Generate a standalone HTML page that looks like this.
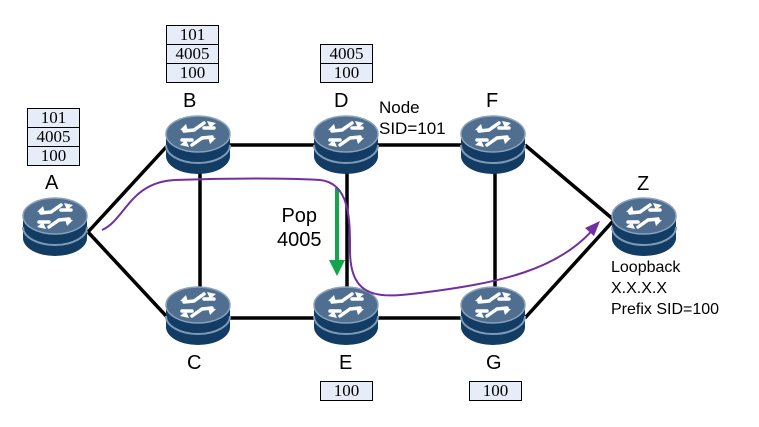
<!DOCTYPE html>
<html><head><style>
body{margin:0;background:#fff;width:759px;height:427px;overflow:hidden;position:relative;font-family:"Liberation Sans",sans-serif}
.t{position:absolute;border-collapse:collapse;font-family:"Liberation Serif",serif;font-size:17px}
.t td{border:1.5px solid #000;background:#e6edf8;height:18px;padding:0;text-align:center;width:51px;line-height:18px}
.l{position:absolute;font-size:20px;color:#000}
</style></head><body>
<svg width="759" height="427" style="position:absolute;left:0;top:0">
<defs>
<g id="r">
<path d="M-32,0 v22 a32,18 0 0 0 64,0 v-22 z" fill="#123c63"/>
<path d="M-32,11 a32,18 0 0 0 64,0" fill="none" stroke="#7f9ab6" stroke-width="2"/>
<ellipse cx="0" cy="0" rx="32" ry="18" fill="#4f6e90" stroke="#8aa2bb" stroke-width="1.5"/>
<g stroke="#fff" stroke-width="3.5" fill="none" stroke-linecap="round">
<path d="M-4,-4 L-14,-3 M-4,-4 L6,-11 M4,4 L14,3 M4,4 L-6,11 M-16,6 L-6,6 M6,-6 L16,-6"/>
</g>
<path d="M18,-11 l-9,-2 l3,7z M-18,11 l9,2 l-3,-7z M-18,-4 l6,-6 l2,7z M18,4 l-6,6 l-2,-7z" fill="#fff"/>
</g>
</defs>
<g stroke="#000" stroke-width="3.5" fill="none">
<line x1="88" y1="232" x2="168" y2="145"/>
<line x1="88" y1="232" x2="168" y2="318"/>
<line x1="198" y1="145" x2="495" y2="145"/>
<line x1="198" y1="318" x2="495" y2="318"/>
<line x1="200" y1="150" x2="200" y2="300"/>
<line x1="347" y1="150" x2="347" y2="300"/>
<line x1="495" y1="150" x2="495" y2="300"/>
<line x1="525" y1="145" x2="614" y2="220"/>
<line x1="525" y1="318" x2="614" y2="220"/>
</g>
<use href="#r" x="55" y="216"/>
<use href="#r" x="198" y="134"/>
<use href="#r" x="346" y="134"/>
<use href="#r" x="493" y="134"/>
<use href="#r" x="198" y="305"/>
<use href="#r" x="346" y="305"/>
<use href="#r" x="493" y="305"/>
<use href="#r" x="644" y="216"/>
<line x1="337" y1="188" x2="337" y2="262" stroke="#12a64a" stroke-width="4"/>
<path d="M329,260 L345,260 L337,276 z" fill="#12a64a"/>
<path d="M102,230 C125,220 130,182 175,180 C230,178 290,178 320,180 C350,183 350,220 350,250 C350,300 380,298 420,293 C500,283 560,270 596,226" fill="none" stroke="#7030a0" stroke-width="2"/>
<path d="M600,221 L585,228 L594,236 z" fill="#7030a0"/>
</svg>
<table class="t" style="left:27px;top:108px"><tr><td>101</td></tr><tr><td>4005</td></tr><tr><td>100</td></tr></table>
<table class="t" style="left:166px;top:25px"><tr><td>101</td></tr><tr><td>4005</td></tr><tr><td>100</td></tr></table>
<table class="t" style="left:320px;top:44px"><tr><td>4005</td></tr><tr><td>100</td></tr></table>
<table class="t" style="left:320px;top:381px"><tr><td>100</td></tr></table>
<table class="t" style="left:469px;top:381px"><tr><td>100</td></tr></table>
<div class="l" style="left:45px;top:172px">A</div>
<div class="l" style="left:183px;top:90px">B</div>
<div class="l" style="left:334px;top:90px">D</div>
<div class="l" style="left:486px;top:90px">F</div>
<div class="l" style="left:187px;top:352px">C</div>
<div class="l" style="left:339px;top:352px">E</div>
<div class="l" style="left:486px;top:352px">G</div>
<div class="l" style="left:637px;top:173px">Z</div>
<div class="l" style="left:379px;top:97px;font-size:17px;line-height:21px">Node<br>SID=101</div>
<div class="l" style="left:277px;top:204px;line-height:24px;text-align:center">Pop<br>4005</div>
<div class="l" style="left:611px;top:257px;font-size:16px;line-height:21px">Loopback<br>X.X.X.X<br>Prefix SID=100</div>
</body></html>
